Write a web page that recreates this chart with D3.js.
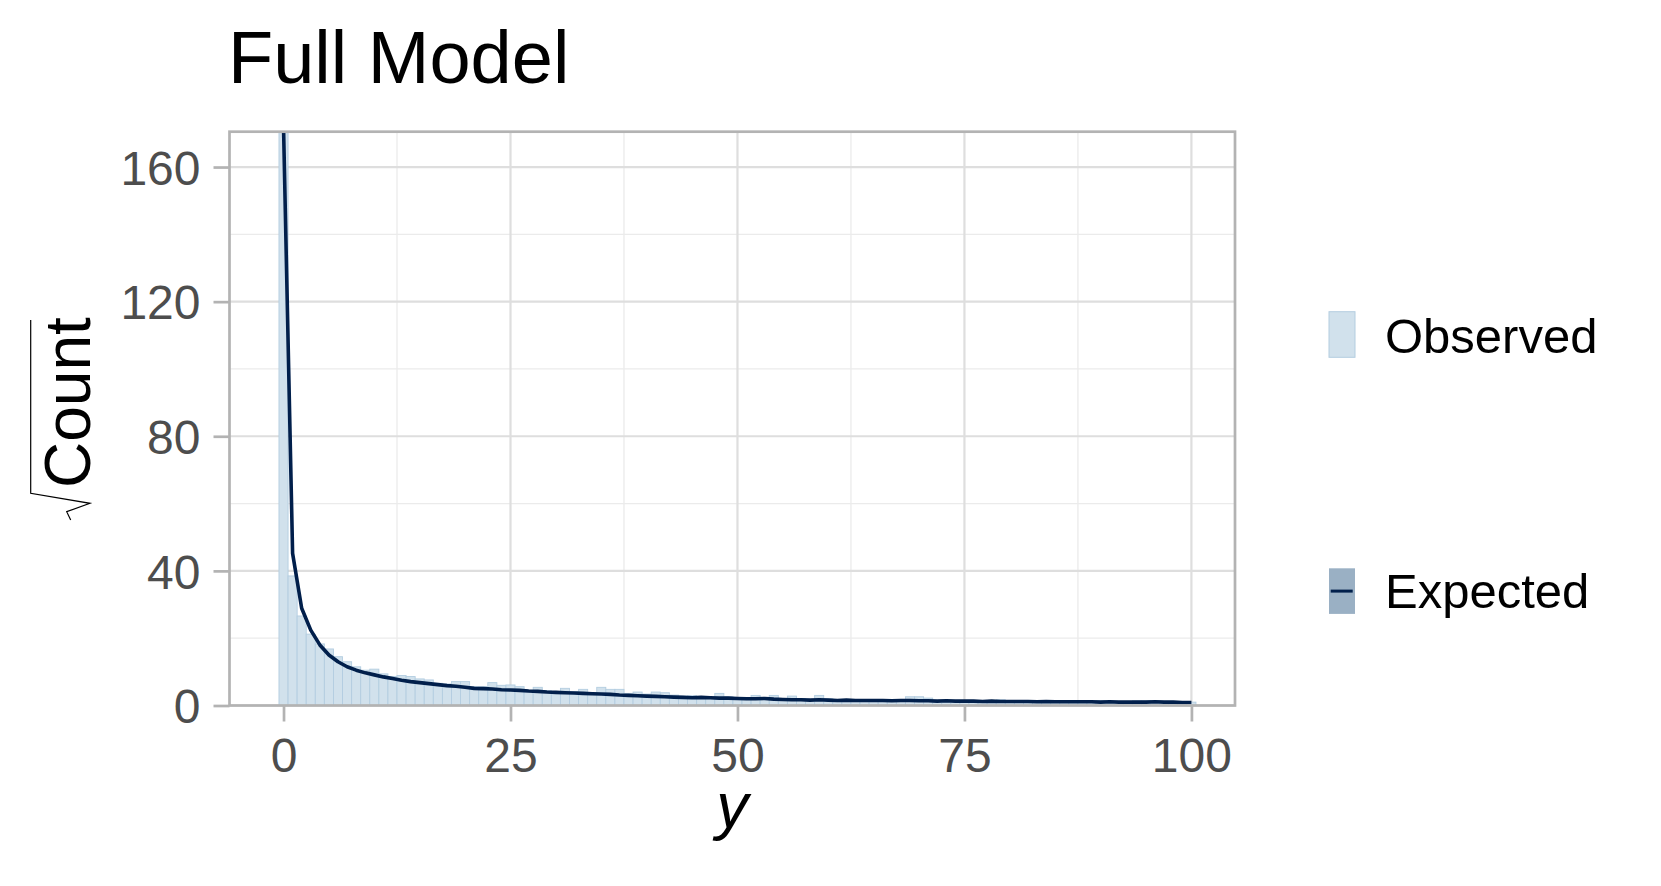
<!DOCTYPE html>
<html>
<head>
<meta charset="utf-8">
<script src="https://cdn.jsdelivr.net/npm/d3@7"></script>
<style>
  body { margin: 0; background: #fff; }
  svg { display: block; font-family: "Liberation Sans", Arial, sans-serif; }
</style>
</head>
<body>
<div id="chart-container"></div>
<script>
// sqrt(count) of observed values, one bar per integer y (0..100)
const observed = [
  185, 38.5, 26.6, 21.2, 18.3, 16.8, 14.5, 13.0, 11.5, 10.5,
  10.8, 9.4, 8.6, 8.9, 8.6, 7.9, 7.6, 6.6, 6.4, 7.1,
  7.1, 5.6, 5.6, 6.8, 6.0, 6.1, 5.6, 4.4, 5.4, 4.4,
  4.1, 5.1, 4.1, 4.8, 3.8, 5.4, 4.8, 4.8, 3.6, 4.0,
  3.4, 4.0, 3.8, 3.1, 2.8, 2.9, 2.6, 2.4, 3.6, 2.6,
  2.2, 2.4, 3.0, 2.2, 3.0, 2.0, 2.8, 2.0, 1.7, 3.0,
  2.0, 1.4, 1.7, 1.4, 1.7, 1.4, 1.7, 1.4, 1.7, 2.6,
  2.6, 2.2, 1.4, 1.0, 1.4, 1.4, 1.0, 1.4, 1.0, 1.7,
  1.4, 1.0, 1.4, 1.0, 1.4, 1.0, 1.0, 1.4, 1.0, 1.0,
  1.4, 1.0, 1.0, 1.0, 1.4, 1.4, 1.0, 1.0, 1.0, 1.0, 1.0
];

// sqrt of expected counts from the model
const expected = [
  172, 45.2, 28.9, 22.4, 18.0, 15.0, 13.0, 11.5, 10.5, 9.7,
  9.1, 8.5, 8.0, 7.5, 7.1, 6.8, 6.5, 6.2, 5.9, 5.7,
  5.4, 5.1, 5.0, 4.9, 4.7, 4.6, 4.5, 4.3, 4.2, 4.0,
  3.9, 3.8, 3.7, 3.6, 3.5, 3.4, 3.3, 3.1, 3.0, 2.9,
  2.8, 2.7, 2.6, 2.5, 2.4, 2.3, 2.4, 2.3, 2.2, 2.2,
  2.1, 2.0, 2.0, 2.1, 1.9, 1.8, 1.7, 1.7, 1.6, 1.7,
  1.6, 1.5, 1.6, 1.5, 1.5, 1.5, 1.5, 1.4, 1.5, 1.5,
  1.4, 1.4, 1.3, 1.4, 1.3, 1.3, 1.3, 1.2, 1.3, 1.2,
  1.2, 1.2, 1.2, 1.1, 1.2, 1.1, 1.1, 1.1, 1.1, 1.1,
  1.0, 1.1, 1.0, 1.0, 1.0, 1.0, 1.1, 1.0, 1.0, 0.9, 0.9
];

const xTicks = [0, 25, 50, 75, 100];
const xMinor = [12.5, 37.5, 62.5, 87.5];
const yTicks = [0, 40, 80, 120, 160];
const yMinor = [20, 60, 100, 140];
const legendItems = ["Observed", "Expected"];

const width = 1661;
const height = 886;
const panel = { left: 229.5, right: 1235, top: 131.7, bottom: 705.5 };

const x = d3.scaleLinear().domain([-5.95, 104.8]).range([panel.left, panel.right]);
const y = d3.scaleLinear().domain([0, 170.5]).range([panel.bottom, panel.top]);

const svg = d3.create("svg")
  .attr("width", width)
  .attr("height", height)
  .attr("viewBox", [0, 0, width, height]);

svg.append("rect").attr("width", width).attr("height", height).attr("fill", "#fff");

svg.append("defs").append("clipPath").attr("id", "clip")
  .append("rect")
  .attr("x", panel.left).attr("y", panel.top)
  .attr("width", panel.right - panel.left).attr("height", panel.bottom - panel.top);

// gridlines
const grid = svg.append("g");
grid.selectAll(".xminor").data(xMinor).join("line")
  .attr("x1", d => x(d)).attr("x2", d => x(d))
  .attr("y1", panel.top).attr("y2", panel.bottom)
  .attr("stroke", "#ebebeb").attr("stroke-width", 1.3);
grid.selectAll(".yminor").data(yMinor).join("line")
  .attr("x1", panel.left).attr("x2", panel.right)
  .attr("y1", d => y(d)).attr("y2", d => y(d))
  .attr("stroke", "#ebebeb").attr("stroke-width", 1.3);
grid.selectAll(".xmajor").data(xTicks).join("line")
  .attr("x1", d => x(d)).attr("x2", d => x(d))
  .attr("y1", panel.top).attr("y2", panel.bottom)
  .attr("stroke", "#dedede").attr("stroke-width", 2.2);
grid.selectAll(".ymajor").data(yTicks).join("line")
  .attr("x1", panel.left).attr("x2", panel.right)
  .attr("y1", d => y(d)).attr("y2", d => y(d))
  .attr("stroke", "#dedede").attr("stroke-width", 2.2);

const plot = svg.append("g").attr("clip-path", "url(#clip)");

// observed bars
plot.selectAll(".bar").data(observed).join("rect")
  .attr("class", "bar")
  .attr("x", (d, i) => x(i - 0.5))
  .attr("width", (d, i) => x(i + 0.5) - x(i - 0.5))
  .attr("y", d => y(d))
  .attr("height", d => y(0) - y(d))
  .attr("fill", "#d1e1ec")
  .attr("stroke", "#b3cde0")
  .attr("stroke-width", 0.9);

// expected line
const line = d3.line().x((d, i) => x(i)).y(d => y(d));
plot.append("path")
  .datum(expected)
  .attr("d", line)
  .attr("fill", "none")
  .attr("stroke", "#011f4b")
  .attr("stroke-width", 3.6)
  .attr("stroke-linejoin", "round");

// panel border
svg.append("rect")
  .attr("x", panel.left).attr("y", panel.top)
  .attr("width", panel.right - panel.left).attr("height", panel.bottom - panel.top)
  .attr("fill", "none").attr("stroke", "#b3b3b3").attr("stroke-width", 2.7);

// axes
const xAxis = svg.append("g")
  .attr("transform", `translate(0,${panel.bottom})`)
  .call(d3.axisBottom(x).tickValues(xTicks).tickSize(16).tickPadding(16).tickFormat(d3.format("d")));
const yAxis = svg.append("g")
  .attr("transform", `translate(${panel.left},0)`)
  .call(d3.axisLeft(y).tickValues(yTicks).tickSize(16).tickPadding(13).tickFormat(d3.format("d")));

[xAxis, yAxis].forEach(g => {
  g.select(".domain").remove();
  g.selectAll(".tick line").attr("stroke", "#b3b3b3").attr("stroke-width", 2.7);
  g.selectAll(".tick text")
    .attr("fill", "#4d4d4d")
    .attr("font-size", 48)
    .attr("font-family", "'Liberation Sans', Arial, sans-serif");
});
yAxis.selectAll(".tick text").attr("dy", "0.36em");

// title
svg.append("text")
  .attr("x", 228).attr("y", 83.3)
  .attr("font-size", 74)
  .attr("fill", "#000")
  .text("Full Model");

// x axis title
svg.append("text")
  .attr("x", (panel.left + panel.right) / 2)
  .attr("y", 828)
  .attr("text-anchor", "middle")
  .attr("font-size", 64)
  .attr("font-style", "italic")
  .attr("fill", "#000")
  .text("y");

// y axis title: sqrt(Count)
svg.append("text")
  .attr("transform", "translate(90,488) rotate(-90)")
  .attr("font-size", 64)
  .attr("fill", "#000")
  .text("Count");
svg.append("path")
  .attr("d", "M30.7,320 L30.7,493.3 L90,503.3 L66.7,511.7 L70.7,520")
  .attr("fill", "none")
  .attr("stroke", "#000")
  .attr("stroke-width", 1.2);

// legend
const legend = svg.append("g");
const keyY = [311.7, 568.3];
const labelY = [353.3, 608.3];
legend.selectAll("rect.key").data(legendItems).join("rect")
  .attr("class", "key")
  .attr("x", 1329).attr("y", (d, i) => keyY[i])
  .attr("width", 26).attr("height", 45.6)
  .attr("fill", (d, i) => i === 0 ? "#d1e1ec" : "#03396c")
  .attr("fill-opacity", (d, i) => i === 0 ? 1 : 0.4)
  .attr("stroke", (d, i) => i === 0 ? "#b3cde0" : "none")
  .attr("stroke-width", 1);
legend.append("line")
  .attr("x1", 1330.7).attr("x2", 1352.7)
  .attr("y1", keyY[1] + 22.8).attr("y2", keyY[1] + 22.8)
  .attr("stroke", "#011f4b").attr("stroke-width", 3);
legend.selectAll("text").data(legendItems).join("text")
  .attr("x", 1385)
  .attr("y", (d, i) => labelY[i])
  .attr("font-size", 49)
  .attr("fill", "#000")
  .text(d => d);

document.getElementById("chart-container").appendChild(svg.node());
</script>
</body>
</html>
